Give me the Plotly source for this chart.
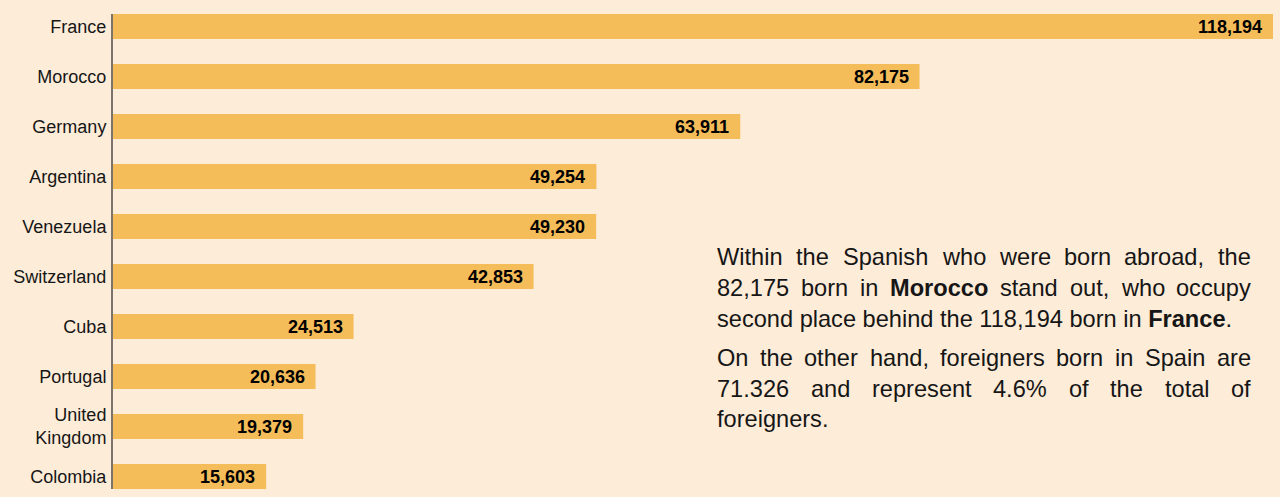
import plotly.graph_objects as go

# Spanish nationals born abroad, by country of birth
countries = ["France", "Morocco", "Germany", "Argentina", "Venezuela",
             "Switzerland", "Cuba", "Portugal", "United<br>Kingdom", "Colombia"]
born_abroad = [118194, 82175, 63911, 49254, 49230, 42853, 24513, 20636, 19379, 15603]
value_labels = ["118,194", "82,175", "63,911", "49,254", "49,230",
                "42,853", "24,513", "20,636", "19,379", "15,603"]

# Commentary text, one entry per printed line; (text, bold) runs per word
paragraph_lines = [
    [("Within", 0), ("the", 0), ("Spanish", 0), ("who", 0), ("were", 0), ("born", 0), ("abroad,", 0), ("the", 0)],
    [("82,175", 0), ("born", 0), ("in", 0), ("Morocco", 1), ("stand", 0), ("out,", 0), ("who", 0), ("occupy", 0)],
    [("second place behind the 118,194 born in <b>France</b>.", None)],
    [("On", 0), ("the", 0), ("other", 0), ("hand,", 0), ("foreigners", 0), ("born", 0), ("in", 0), ("Spain", 0), ("are", 0)],
    [("71.326", 0), ("and", 0), ("represent", 0), ("4.6%", 0), ("of", 0), ("the", 0), ("total", 0), ("of", 0)],
    [("foreigners.", None)],
]

BG = "#fdecd8"
BAR = "#f5bc5a"
AXIS = "#7c736b"
INK = "#161616"
FONT = "Liberation Sans, Arial, Helvetica, sans-serif"

W, H = 1280, 497
ML, MR, MT, MB = 113, 7, 14, 8
PW, PH = W - ML - MR, H - MT - MB

# Helvetica/Arial advance widths (1/1000 em) for justified text layout
REG = {" ": 278, ",": 278, ".": 278, "%": 889, "W": 944, "S": 667, "O": 778, "M": 833, "F": 611,
       "a": 556, "b": 556, "c": 500, "d": 556, "e": 556, "f": 278, "g": 556, "h": 556,
       "i": 222, "l": 222, "m": 833, "n": 556, "o": 556, "p": 556, "r": 333, "s": 500,
       "t": 278, "u": 556, "w": 722, "y": 500}
BOLD = {"M": 833, "o": 611, "r": 389, "c": 556, "F": 611, "a": 556, "n": 611, "e": 556, ".": 278}


def text_width(word, bold, size):
    table = BOLD if bold else REG
    return sum(table.get(ch, 556) for ch in word) * size / 1000.0


def px_to_paper(px, py):
    return (px - ML) / PW, (H - MB - py) / PH


fig = go.Figure()
fig.add_trace(go.Bar(
    x=born_abroad, y=countries, orientation="h",
    marker=dict(color=BAR, line=dict(width=0)),
    hoverinfo="skip",
))

annotations = []
for c, v, lab in zip(countries, born_abroad, value_labels):
    annotations.append(dict(
        x=v, y=c, xref="x", yref="y", text=f"<b>{lab}</b>", showarrow=False,
        xanchor="right", yanchor="middle", xshift=-9,
        font=dict(family=FONT, size=18, color="#000"),
    ))

# Justified paragraph block
TXT_SIZE = 23.6
LEFT, RIGHT = 716, 1250
line_y = [257, 288, 319, 358, 389, 419]
for words, py in zip(paragraph_lines, line_y):
    if words[0][1] is None:
        xp, yp = px_to_paper(LEFT, py)
        annotations.append(dict(
            x=xp, y=yp, xref="paper", yref="paper", text=words[0][0], showarrow=False,
            xanchor="left", yanchor="middle", borderpad=0,
            font=dict(family=FONT, size=TXT_SIZE, color=INK),
        ))
        continue
    widths = [text_width(w, b, TXT_SIZE) for w, b in words]
    gap = (RIGHT - LEFT - sum(widths)) / (len(words) - 1)
    x = LEFT
    for (w, b), wd in zip(words, widths):
        xp, yp = px_to_paper(x, py)
        annotations.append(dict(
            x=xp, y=yp, xref="paper", yref="paper",
            text=f"<b>{w}</b>" if b else w, showarrow=False,
            xanchor="left", yanchor="middle", borderpad=0,
            font=dict(family=FONT, size=TXT_SIZE, color=INK),
        ))
        x += wd + gap

fig.update_layout(
    width=W, height=H,
    margin=dict(l=ML, r=MR, t=MT, b=MB, pad=0),
    paper_bgcolor=BG, plot_bgcolor=BG,
    bargap=0.5, showlegend=False,
    annotations=annotations,
    xaxis=dict(range=[0, max(born_abroad)], visible=False, fixedrange=True),
    yaxis=dict(
        type="category", range=[len(countries) - 0.75, -0.25],
        showline=True, linecolor=AXIS, linewidth=2, showgrid=False, zeroline=False,
        ticks="", ticklabelstandoff=1,
        tickfont=dict(family=FONT, size=18, color=INK), fixedrange=True,
    ),
)

fig.write_html("out.html")
